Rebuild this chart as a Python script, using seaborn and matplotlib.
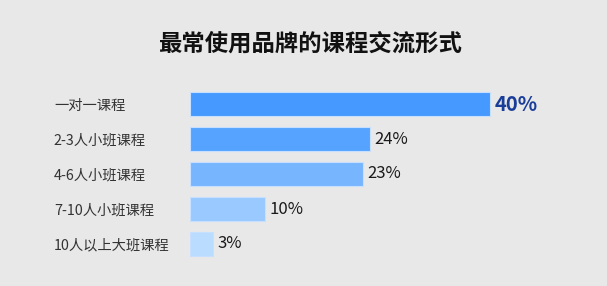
import matplotlib
matplotlib.use("Agg")
import matplotlib.pyplot as plt
import seaborn as sns
import pandas as pd

categories = ["一对一课程", "2-3人小班课程", "4-6人小班课程", "7-10人小班课程", "10人以上大班课程"]
values = [40, 24, 23, 10, 3]
value_labels = ["40%", "24%", "23%", "10%", "3%"]
bar_colors = ["#4599ff", "#55a3ff", "#77b5ff", "#99c9ff", "#b9dcff"]
title = "最常使用品牌的课程交流形式"

sns.set_theme(style="white")
plt.rcParams["font.family"] = ["Noto Sans CJK SC", "DejaVu Sans"]
bg = "#e8e8e8"

df = pd.DataFrame({"cat": categories, "val": values})

fig = plt.figure(figsize=(6.07, 2.86), dpi=100, facecolor=bg)
ax = fig.add_axes([190 / 607, 1 - 261.5 / 286, 375 / 607, 175 / 286])
ax.set_facecolor(bg)

sns.barplot(data=df, y="cat", x="val", hue="cat", palette=bar_colors,
            orient="h", width=0.66, legend=False, ax=ax,
            edgecolor="#c8e0ff", linewidth=0.8, saturation=1)

ax.set_xlim(0, 50)
ax.set_ylim(4.5, -0.5)
for s in ax.spines.values():
    s.set_visible(False)
ax.set_xticks([])
ax.set_xlabel("")
ax.set_ylabel("")
ax.tick_params(axis="y", length=0, pad=98)
for lbl in ax.get_yticklabels():
    lbl.set_horizontalalignment("left")
    lbl.set_fontsize(10.3)
    lbl.set_color("#333333")

for i, (v, t) in enumerate(zip(values, value_labels)):
    if i == 0:
        ax.text(v + 0.6, i, t, va="center", ha="left", fontsize=14.5,
                fontweight="bold", color="#1a3d99")
    else:
        ax.text(v + 0.6, i, t, va="center", ha="left", fontsize=12,
                color="#1a1a1a")

fig.text(310 / 607, 1 - 44 / 286, title, ha="center", va="center",
         fontsize=16.8, fontweight="bold", color="#111111")

fig.savefig("out.png", dpi=100, facecolor=bg)
